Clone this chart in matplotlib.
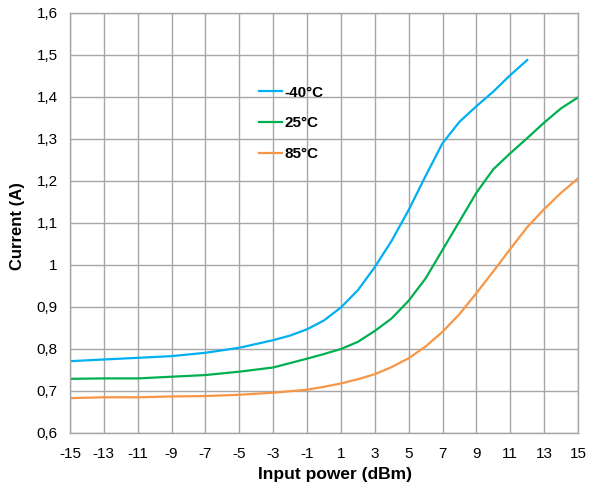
import matplotlib
matplotlib.use("Agg")
import matplotlib.pyplot as plt
from matplotlib.ticker import FuncFormatter

plt.rcParams['font.family'] = ['Liberation Sans', 'DejaVu Sans']
plt.rcParams['axes.unicode_minus'] = False

x_cold = [-15, -13, -11, -9, -7, -5, -3, -2, -1, 0, 1, 2, 3, 4, 5, 6, 7, 8, 9, 10, 11, 12]
y_cold = [0.771, 0.775, 0.779, 0.783, 0.791, 0.803, 0.821, 0.832, 0.847, 0.868, 0.899, 0.94, 0.995,
          1.058, 1.131, 1.212, 1.29, 1.341, 1.378, 1.413, 1.452, 1.488]

x_room = [-15, -13, -11, -9, -7, -5, -3, -1, 0, 1, 2, 3, 4, 5, 6, 7, 8, 9, 10, 11, 12, 13, 14, 15]
y_room = [0.729, 0.730, 0.730, 0.734, 0.738, 0.746, 0.756, 0.777, 0.788, 0.80, 0.817, 0.843, 0.873,
          0.915, 0.968, 1.036, 1.104, 1.172, 1.228, 1.266, 1.302, 1.339, 1.373, 1.399]

x_hot = [-15, -13, -11, -9, -7, -5, -3, -1, 0, 1, 2, 3, 4, 5, 6, 7, 8, 9, 10, 11, 12, 13, 14, 15]
y_hot = [0.683, 0.685, 0.685, 0.687, 0.688, 0.691, 0.696, 0.703, 0.710, 0.718, 0.728, 0.740, 0.757,
         0.778, 0.806, 0.841, 0.883, 0.933, 0.985, 1.038, 1.090, 1.133, 1.172, 1.206]

labels = ['-40°C', '25°C', '85°C']
colors = ['#00B0F0', '#00B050', '#F79646']

fig = plt.figure(figsize=(5.95, 4.88), dpi=100)
ax = fig.add_axes([70/595, 1-433/488, 508/595, 420/488])

ax.plot(x_cold, y_cold, color=colors[0], lw=1.6, label=labels[0])
ax.plot(x_room, y_room, color=colors[1], lw=1.6, label=labels[1])
ax.plot(x_hot, y_hot, color=colors[2], lw=1.6, label=labels[2])

ax.set_xlim(-15, 15)
ax.set_ylim(0.6, 1.6)
ax.set_xticks(range(-15, 16, 2))
ax.set_yticks([0.6 + 0.1*i for i in range(11)])
ax.yaxis.set_major_formatter(FuncFormatter(
    lambda v, p: '1' if abs(v-1) < 1e-9 else f"{v:.1f}".replace('.', ',')))
ax.grid(True, color='#a6a6a6', lw=1)
ax.set_axisbelow(True)
for s in ax.spines.values():
    s.set_color('#a6a6a6')
    s.set_linewidth(1)
ax.tick_params(length=0, labelsize=11, colors='black')
ax.tick_params(axis='x', pad=10)
ax.tick_params(axis='y', pad=9)

ax.set_xlabel('Input power (dBm)', fontsize=12.5, fontweight='bold')
ax.set_ylabel('Current (A)', fontsize=12, fontweight='bold')
ax.xaxis.set_label_coords(0.5 + 11/508, -(475-433)/420, transform=ax.transAxes)
ax.xaxis.label.set_va('center')
ax.yaxis.set_label_coords(-(70-18)/508, 0.5 - (226-223)/420, transform=ax.transAxes)
ax.yaxis.label.set_va('center')

leg = ax.legend(loc='upper left', bbox_to_anchor=(0.345, 0.86), frameon=False,
                handlelength=1.5, handletextpad=0.15, labelspacing=1.1,
                prop={'weight': 'bold', 'size': 11})

fig.savefig('out.png', dpi=100, facecolor='white')
